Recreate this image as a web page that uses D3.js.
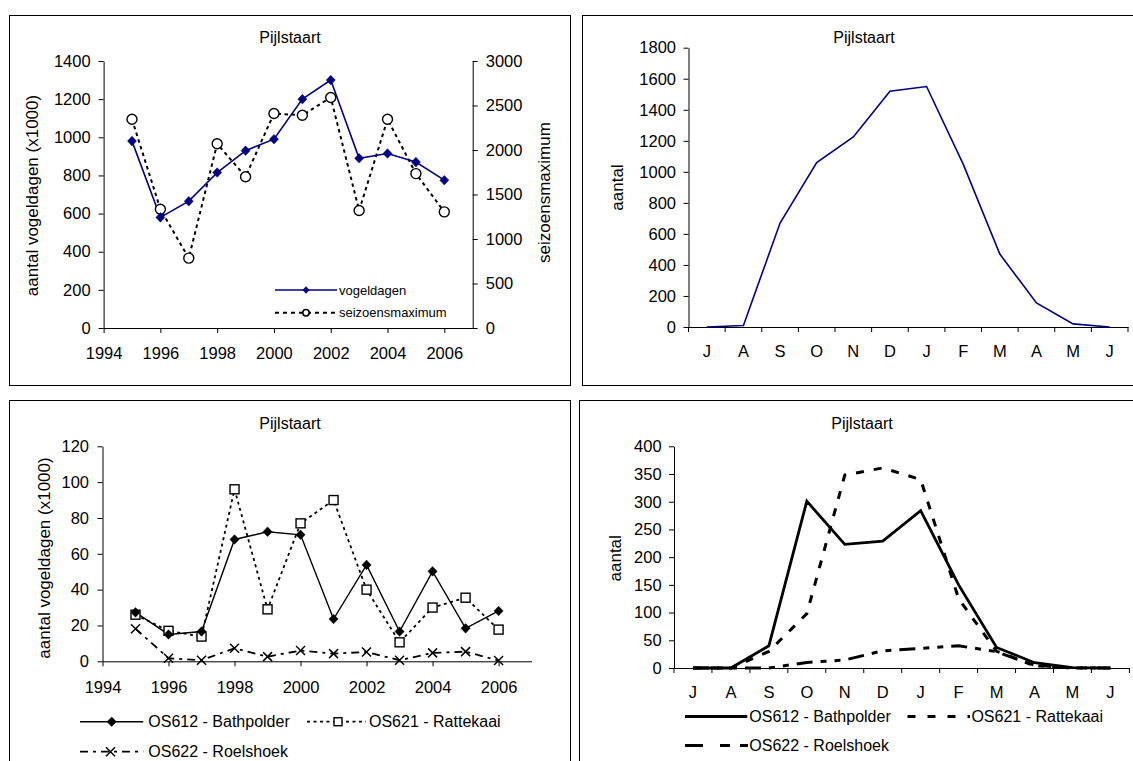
<!DOCTYPE html>
<html><head><meta charset="utf-8">
<script src="https://cdn.jsdelivr.net/npm/d3@7"></script>
<style>
body{margin:0;background:#fff;}
svg{display:block;font-family:"Liberation Sans",Arial,sans-serif;}
</style></head><body>
<svg id="c" width="1133" height="761"></svg>
<script>
// ---------- DATA ----------
const years = [1995,1996,1997,1998,1999,2000,2001,2002,2003,2004,2005,2006];
const yearTicks = [1994,1996,1998,2000,2002,2004,2006];
const vogeldagen = [980,580,665,815,930,990,1200,1300,890,915,870,775];
const seizoensmaximum = [2345,1335,785,2070,1700,2410,2390,2590,1320,2345,1735,1305];

const months = ["J","A","S","O","N","D","J","F","M","A","M","J"];
const monthTotal = [0,10,670,1060,1225,1520,1550,1050,470,155,20,0];

const seriesNames = ["OS612 - Bathpolder","OS621 - Rattekaai","OS622 - Roelshoek"];
const bathYear = [27.3,15,16.6,68,72.3,70.6,23.6,53.8,16.6,50.2,18.4,28.1];
const ratteYear = [26,17,13.8,96,29,77,90,40,10.6,30,35.5,17.7];
const roelsYear = [18.2,1.7,0.6,7.3,2.6,6,4.3,5.2,0.6,4.7,5.4,0.4];

const bathMonth = [0,0,40,301,223,229,284,150,37,9.6,0.6,0];
const ratteMonth = [0,0,30,98,348,361,340,125,30,5,0,0];
const roelsMonth = [0,0,0,10,14.5,31,35.5,40,29.5,4,0,0];

const title = "Pijlstaart";

// ---------- HELPERS ----------
const svg = d3.select("#c");
svg.append("rect").attr("width",1133).attr("height",761).attr("fill","#fff");
const FONT = 16.5;
const fmt = d3.format("d");

function box(x0,y0,x1,y1){
  svg.append("rect").attr("x",x0+0.5).attr("y",y0+0.5).attr("width",x1-x0).attr("height",y1-y0)
    .attr("fill","none").attr("stroke","#000").attr("stroke-width",1);
}
function styleAxis(g){
  g.attr("font-family",null).attr("font-size",null);
  g.selectAll("text").attr("font-size",FONT).attr("fill","#000");
  g.selectAll("line,path").attr("stroke","#000").attr("stroke-width",1);
}
function text(x,y,s,opts={}){
  const t = svg.append("text").attr("x",x).attr("y",y).attr("dy","0.35em").text(s)
    .attr("font-size",opts.size||FONT).attr("fill","#000")
    .attr("text-anchor",opts.anchor||"middle");
  if(opts.rotate) t.attr("transform",`rotate(-90,${x},${y})`);
  return t;
}
function diamond(g,x,y,w,h,fill){
  g.append("path").attr("d",`M${x},${y-h}L${x+w},${y}L${x},${y+h}L${x-w},${y}Z`).attr("fill",fill).attr("stroke",fill).attr("stroke-width",0.5);
}
function square(g,x,y,s){
  g.append("rect").attr("x",x-s/2).attr("y",y-s/2).attr("width",s).attr("height",s)
    .attr("fill","#fff").attr("stroke","#000").attr("stroke-width",1.4);
}
function cross(g,x,y,s){
  g.append("path").attr("d",`M${x-s},${y-s}L${x+s},${y+s}M${x-s},${y+s}L${x+s},${y-s}`)
    .attr("stroke","#000").attr("stroke-width",1.5).attr("fill","none");
}
function circle(g,x,y,r,sw){
  g.append("circle").attr("cx",x).attr("cy",y).attr("r",r).attr("fill","#fff").attr("stroke","#000").attr("stroke-width",sw||1.4);
}

// ---------- PANEL BORDERS ----------
box(9,15,570,385);
box(582,15,1140,385);
box(9,400,570,770);
box(579,400,1140,770);

// ---------- TOP LEFT ----------
{
  const x = d3.scaleLinear().domain([1994,2007]).range([103.6,472.7]);
  const yL = d3.scaleLinear().domain([0,1400]).range([328,61]);
  const yR = d3.scaleLinear().domain([0,3000]).range([328,61]);
  styleAxis(svg.append("g").attr("transform","translate(103.6,0)")
    .call(d3.axisLeft(yL).tickValues(d3.range(0,1401,200)).tickFormat(fmt).tickSize(5).tickSizeOuter(0).tickPadding(8)));
  styleAxis(svg.append("g").attr("transform","translate(472.7,0)")
    .call(d3.axisRight(yR).tickValues(d3.range(0,3001,500)).tickFormat(fmt).tickSize(5).tickSizeOuter(0).tickPadding(8)));
  styleAxis(svg.append("g").attr("transform","translate(0,328)")
    .call(d3.axisBottom(x).tickValues(yearTicks).tickFormat(fmt).tickSize(5).tickSizeOuter(0).tickPadding(14)));
  text(290,37,title,{size:16});
  text(32,195.5,"aantal vogeldagen (x1000)",{rotate:true,size:17});
  text(544,192.5,"seizoensmaximum",{rotate:true,size:17});

  const g = svg.append("g");
  const line2 = d3.line().x((d,i)=>x(years[i])).y(d=>yR(d));
  g.append("path").attr("d",line2(seizoensmaximum)).attr("fill","none").attr("stroke","#000")
    .attr("stroke-width",2).attr("stroke-dasharray","3.5,3.5");
  const line1 = d3.line().x((d,i)=>x(years[i])).y(d=>yL(d));
  g.append("path").attr("d",line1(vogeldagen)).attr("fill","none").attr("stroke","#000080").attr("stroke-width",1.6);
  seizoensmaximum.forEach((d,i)=>circle(g,x(years[i]),yR(d),5));
  vogeldagen.forEach((d,i)=>diamond(g,x(years[i]),yL(d),4.5,4.8,"#000080"));

  // legend
  const lg = svg.append("g");
  lg.append("line").attr("x1",275).attr("x2",337).attr("y1",290).attr("y2",290).attr("stroke","#000080").attr("stroke-width",1.6);
  diamond(lg,306,290,3.2,3.4,"#000080");
  text(339,290,"vogeldagen",{size:13,anchor:"start"});
  lg.append("line").attr("x1",275).attr("x2",337).attr("y1",312.7).attr("y2",312.7).attr("stroke","#000").attr("stroke-width",2).attr("stroke-dasharray","4,4");
  circle(lg,306,312.7,3.2,1.5);
  text(339,312.7,"seizoensmaximum",{size:13,anchor:"start"});
}

// ---------- TOP RIGHT ----------
{
  const idx = d3.range(months.length);
  const x = d3.scaleBand().domain(idx).range([688.5,1128]);
  const y = d3.scaleLinear().domain([0,1800]).range([327,47.7]);
  styleAxis(svg.append("g").attr("transform","translate(688.5,0)")
    .call(d3.axisLeft(y).tickValues(d3.range(0,1801,200)).tickFormat(fmt).tickSize(5).tickSizeOuter(0).tickPadding(7.5)));
  const gx = svg.append("g").attr("transform","translate(0,327)")
    .call(d3.axisBottom(x).tickFormat(i=>months[i]).tickSize(0).tickSizeOuter(0).tickPadding(18));
  styleAxis(gx);
  const bounds = idx.map(i=>x(i)).concat([x.range()[1]]);
  gx.selectAll(".bt").data(bounds).join("line").attr("class","bt")
    .attr("x1",d=>d).attr("x2",d=>d).attr("y1",0).attr("y2",5).attr("stroke","#000");
  text(864,37,title,{size:16});
  text(617,187.5,"aantal",{rotate:true,size:17});
  const line = d3.line().x((d,i)=>x(i)+x.bandwidth()/2).y(d=>y(d));
  svg.append("path").attr("d",line(monthTotal)).attr("fill","none").attr("stroke","#000080").attr("stroke-width",1.6);
}

// ---------- BOTTOM LEFT ----------
{
  const x = d3.scaleLinear().domain([1994,2007]).range([102.5,531.6]);
  const y = d3.scaleLinear().domain([0,120]).range([661.3,446.3]);
  styleAxis(svg.append("g").attr("transform","translate(102.5,0)")
    .call(d3.axisLeft(y).tickValues(d3.range(0,121,20)).tickFormat(fmt).tickSize(5).tickSizeOuter(0).tickPadding(8.5)));
  styleAxis(svg.append("g").attr("transform","translate(0,661.3)")
    .call(d3.axisBottom(x).tickValues(yearTicks).tickFormat(fmt).tickSize(5).tickSizeOuter(0).tickPadding(14.5)));
  text(290,423,title,{size:16});
  text(43.6,558,"aantal vogeldagen (x1000)",{rotate:true,size:17});

  const g = svg.append("g");
  const line = d3.line().x((d,i)=>x(years[i])).y(d=>y(d));
  g.append("path").attr("d",line(roelsYear)).attr("fill","none").attr("stroke","#000").attr("stroke-width",1.8).attr("stroke-dasharray","8,5,3,5");
  g.append("path").attr("d",line(ratteYear)).attr("fill","none").attr("stroke","#000").attr("stroke-width",1.8).attr("stroke-dasharray","3,3.5");
  g.append("path").attr("d",line(bathYear)).attr("fill","none").attr("stroke","#000").attr("stroke-width",1.4);
  roelsYear.forEach((d,i)=>cross(g,x(years[i]),y(d),4.5));
  ratteYear.forEach((d,i)=>square(g,x(years[i]),y(d),9));
  bathYear.forEach((d,i)=>diamond(g,x(years[i]),y(d),4.6,4.8,"#000"));

  // legend
  const lg = svg.append("g");
  lg.append("line").attr("x1",80).attr("x2",143.3).attr("y1",721.7).attr("y2",721.7).attr("stroke","#000").attr("stroke-width",1.4);
  diamond(lg,111.7,721.7,4.6,4.8,"#000");
  text(148.3,721.7,seriesNames[0],{anchor:"start",size:16});
  lg.append("line").attr("x1",307).attr("x2",366).attr("y1",721.7).attr("y2",721.7).attr("stroke","#000").attr("stroke-width",1.8).attr("stroke-dasharray","3,3.5");
  square(lg,338,721.7,8);
  text(369,721.7,seriesNames[1],{anchor:"start",size:16});
  lg.append("line").attr("x1",80).attr("x2",143.3).attr("y1",751.7).attr("y2",751.7).attr("stroke","#000").attr("stroke-width",1.8).attr("stroke-dasharray","8,5,3,5");
  cross(lg,110.5,751.7,4.5);
  text(148.3,751.7,seriesNames[2],{anchor:"start",size:16});
}

// ---------- BOTTOM RIGHT ----------
{
  const idx = d3.range(months.length);
  const x = d3.scaleBand().domain(idx).range([674,1129.4]);
  const y = d3.scaleLinear().domain([0,400]).range([668,446.3]);
  styleAxis(svg.append("g").attr("transform","translate(674,0)")
    .call(d3.axisLeft(y).tickValues(d3.range(0,401,50)).tickFormat(fmt).tickSize(5).tickSizeOuter(0).tickPadding(7.4)));
  const gx = svg.append("g").attr("transform","translate(0,668)")
    .call(d3.axisBottom(x).tickFormat(i=>months[i]).tickSize(0).tickSizeOuter(0).tickPadding(18));
  styleAxis(gx);
  const bounds = idx.map(i=>x(i)).concat([x.range()[1]]);
  gx.selectAll(".bt").data(bounds).join("line").attr("class","bt")
    .attr("x1",d=>d).attr("x2",d=>d).attr("y1",0).attr("y2",5).attr("stroke","#000");
  text(862,423,title,{size:16});
  text(615,558.3,"aantal",{rotate:true,size:17});

  const line = d3.line().x((d,i)=>x(i)+x.bandwidth()/2).y(d=>y(d));
  svg.append("path").attr("d",line(roelsMonth)).attr("fill","none").attr("stroke","#000").attr("stroke-width",3).attr("stroke-dasharray","16,8,6,8,6,8");
  svg.append("path").attr("d",line(ratteMonth)).attr("fill","none").attr("stroke","#000").attr("stroke-width",3).attr("stroke-dasharray","8,10");
  svg.append("path").attr("d",line(bathMonth)).attr("fill","none").attr("stroke","#000").attr("stroke-width",2.8);

  const lg = svg.append("g");
  lg.append("line").attr("x1",685).attr("x2",747.3).attr("y1",716.5).attr("y2",716.5).attr("stroke","#000").attr("stroke-width",2.8);
  text(749.3,716.5,seriesNames[0],{anchor:"start",size:16});
  lg.append("line").attr("x1",907.5).attr("x2",970).attr("y1",716.5).attr("y2",716.5).attr("stroke","#000").attr("stroke-width",3).attr("stroke-dasharray","8,12");
  text(971.4,716.5,seriesNames[1],{anchor:"start",size:16});
  lg.append("line").attr("x1",685).attr("x2",749).attr("y1",745.5).attr("y2",745.5).attr("stroke","#000").attr("stroke-width",3).attr("stroke-dasharray","18,17,10,10,8,10");
  text(749.3,745.5,seriesNames[2],{anchor:"start",size:16});
}
</script>
</body></html>
